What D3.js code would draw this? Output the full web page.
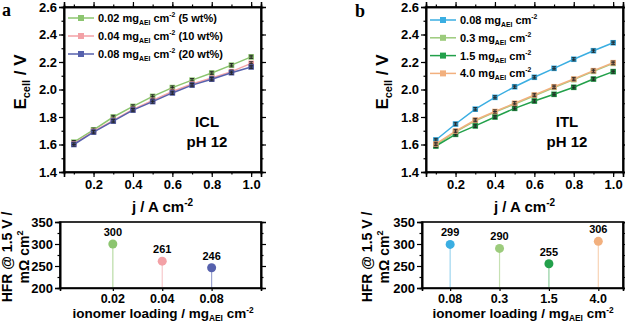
<!DOCTYPE html>
<html>
<head>
<meta charset="utf-8">
<script src="https://cdn.jsdelivr.net/npm/d3@7"></script>
<style>
  body { margin: 0; background: #fff; }
  svg { font-family: "Liberation Sans", Arial, sans-serif; font-weight: bold; }
</style>
</head>
<body>
<svg id="chart" width="625" height="322"></svg>
<script>
// current densities (A cm-2)
var jVals = [0.1, 0.2, 0.3, 0.4, 0.5, 0.6, 0.7, 0.8, 0.9, 1.0];

// panel a - ICL ionomer content
var aNames = ["0.02", "0.04", "0.08"];
var aWt = ["(5 wt%)", "(10 wt%)", "(20 wt%)"];
var aColors = ["#8cc56f", "#f3a1a6", "#5661ad"];
var aStem = ["#b9dca6", "#f7c9cc", "#9ca3d1"];
var a002 = [1.617, 1.707, 1.80, 1.877, 1.95, 2.014, 2.068, 2.12, 2.177, 2.237];
var a004 = [1.605, 1.695, 1.775, 1.855, 1.92, 1.985, 2.04, 2.083, 2.13, 2.19];
var a008 = [1.600, 1.690, 1.770, 1.850, 1.912, 1.975, 2.032, 2.075, 2.122, 2.164];
var aHfr = [300, 261, 246];

// panel b - ITL ionomer loading
var bNames = ["0.08", "0.3", "1.5", "4.0"];
var bColors = ["#3aaee2", "#9ccb7c", "#22a04a", "#f2b07e"];
var bStem = ["#9fd6ef", "#c6e1b3", "#8fcf9f", "#f8d3b5"];
var b008 = [1.633, 1.749, 1.857, 1.943, 2.02, 2.089, 2.154, 2.22, 2.282, 2.34];
var b03 = [1.598, 1.692, 1.772, 1.836, 1.895, 1.955, 2.015, 2.072, 2.132, 2.19];
var b15 = [1.589, 1.674, 1.735, 1.80, 1.863, 1.916, 1.965, 2.016, 2.076, 2.13];
var b40 = [1.604, 1.698, 1.778, 1.84, 1.90, 1.96, 2.02, 2.076, 2.137, 2.195];
var bHfr = [299, 290, 255, 306];

var svg = d3.select("#chart");
var FONT = "Liberation Sans, Arial, sans-serif";

function styleAxis(g) {
    g.selectAll("path").attr("stroke", "#000").attr("stroke-width", 1.6);
    g.selectAll("line").attr("stroke", "#000").attr("stroke-width", 1.2);
    g.selectAll("text").attr("font-size", "13px").attr("font-weight", "bold")
        .attr("font-family", FONT).attr("fill", "#000");
}

// text with "mg_AEI cm^-2" pieces
function unitText(t, pre, post, size) {
    t.append("tspan").text(pre + " mg");
    t.append("tspan").attr("font-size", size * 0.62 + "px").attr("dy", 3).text("AEI");
    t.append("tspan").attr("dy", -3).text(" cm");
    t.append("tspan").attr("font-size", size * 0.62 + "px").attr("dy", -5).text("-2");
    if (post) t.append("tspan").attr("dy", 5).text(" " + post);
}

function linePanel(opt) {
    var x = d3.scaleLinear().domain([0.05, 1.05]).range([opt.left, opt.right]);
    var y = d3.scaleLinear().domain([1.4, 2.6]).range([172, 7]);
    var g = svg.append("g");

    var minorX = d3.range(0.1, 1.01, 0.1);
    var minorY = d3.range(1.4, 2.61, 0.1);

    // minor ticks
    g.append("g").attr("transform", "translate(0,172)")
        .call(d3.axisBottom(x).tickValues(minorX).tickSize(2.5).tickFormat(""))
        .call(styleAxis);
    g.append("g").attr("transform", "translate(" + opt.left + ",0)")
        .call(d3.axisLeft(y).tickValues(minorY).tickSize(2.5).tickFormat(""))
        .call(styleAxis);
    g.append("g").attr("transform", "translate(" + opt.right + ",0)")
        .call(d3.axisLeft(y).tickValues(minorY).tickSize(-2.5).tickFormat(""))
        .call(styleAxis);
    g.append("g").attr("transform", "translate(0,7)")
        .call(d3.axisBottom(x).tickValues(minorX).tickSize(-2.5).tickFormat(""))
        .call(styleAxis);

    // major ticks
    g.append("g").attr("transform", "translate(0,172)")
        .call(d3.axisBottom(x).tickValues([0.2, 0.4, 0.6, 0.8, 1.0]).tickSize(5).tickPadding(3).tickFormat(d3.format(".1f")))
        .call(styleAxis);
    g.append("g").attr("transform", "translate(" + opt.left + ",0)")
        .call(d3.axisLeft(y).tickValues([1.4, 1.6, 1.8, 2.0, 2.2, 2.4, 2.6]).tickSize(5).tickPadding(2).tickFormat(d3.format(".1f")))
        .call(styleAxis);
    g.append("g").attr("transform", "translate(" + opt.right + ",0)")
        .call(d3.axisLeft(y).tickValues([1.6, 1.8, 2.0, 2.2, 2.4]).tickSize(-5).tickFormat(""))
        .call(styleAxis);
    g.append("g").attr("transform", "translate(0,7)")
        .call(d3.axisBottom(x).tickValues([0.2, 0.4, 0.6, 0.8, 1.0]).tickSize(-5).tickFormat(""))
        .call(styleAxis);

    // series
    var line = d3.line().x(function(d, i) { return x(jVals[i]); }).y(function(d) { return y(d); });
    opt.series.forEach(function(s, k) {
        var sg = g.append("g");
        sg.append("path").datum(s).attr("d", line)
            .attr("fill", "none").attr("stroke", opt.colors[k]).attr("stroke-width", 1.5);
        sg.selectAll("rect").data(s).enter().append("rect")
            .attr("x", function(d, i) { return x(jVals[i]) - 2.8; })
            .attr("y", function(d) { return y(d) - 2.8; })
            .attr("width", 5.6).attr("height", 5.6)
            .attr("fill", opt.colors[k]);
        // error bars
        sg.selectAll("path.err").data(s).enter().append("path")
            .attr("class", "err")
            .attr("d", function(d, i) {
                var cx = x(jVals[i]), y1 = y(d + 0.012), y2 = y(d - 0.012);
                return "M" + (cx - 2) + "," + y1 + "H" + (cx + 2) +
                       "M" + cx + "," + y1 + "V" + y2 +
                       "M" + (cx - 2) + "," + y2 + "H" + (cx + 2) +
                       "M" + (cx - 2) + "," + y(d) + "H" + (cx + 2);
            })
            .attr("stroke", "#222").attr("stroke-width", 0.9).attr("fill", "none");
    });

    // frame
    g.append("rect").attr("x", opt.left).attr("y", 7)
        .attr("width", opt.right - opt.left).attr("height", 165)
        .attr("fill", "none").attr("stroke", "#000").attr("stroke-width", 1.6);

    // legend
    opt.names.forEach(function(n, k) {
        var ly = opt.legY + k * opt.legStep;
        g.append("line").attr("x1", opt.legX).attr("x2", opt.legX + 26)
            .attr("y1", ly).attr("y2", ly)
            .attr("stroke", opt.colors[k]).attr("stroke-width", 1.5);
        g.append("rect").attr("x", opt.legX + 10).attr("y", ly - 3)
            .attr("width", 6).attr("height", 6).attr("fill", opt.colors[k]);
        var t = g.append("text").attr("x", opt.legX + 30).attr("y", ly + 4)
            .attr("font-size", "11px").attr("font-weight", "bold");
        unitText(t, n, opt.post ? opt.post[k] : null, 11);
    });

    // label
    var cx = opt.labX;
    g.append("text").attr("x", cx).attr("y", 127).attr("text-anchor", "middle")
        .attr("font-size", "15px").text(opt.label);
    g.append("text").attr("x", cx).attr("y", 147).attr("text-anchor", "middle")
        .attr("font-size", "15px").text("pH 12");

    // y title
    var yt = g.append("text").attr("transform", "translate(" + opt.yTitleX + ",82) rotate(-90)")
        .attr("text-anchor", "middle").attr("font-size", "17px");
    yt.append("tspan").text("E");
    yt.append("tspan").attr("font-size", "11px").attr("dy", 4).text("cell");
    yt.append("tspan").attr("dy", -4).text(" / V");

    // x title
    var xt = g.append("text").attr("x", (opt.left + opt.right) / 2).attr("y", 212)
        .attr("text-anchor", "middle").attr("font-size", "15px");
    xt.append("tspan").text("j / A cm");
    xt.append("tspan").attr("font-size", "10px").attr("dy", -6).text("-2");
}

function hfrPanel(opt) {
    var x = d3.scaleLinear().domain(opt.xDomain).range([opt.left, opt.right]);
    var y = d3.scaleLinear().domain([200, 350]).range([288, 222]);
    var g = svg.append("g");

    g.append("g").attr("transform", "translate(" + opt.left + ",0)")
        .call(d3.axisLeft(y).tickValues([225, 275, 325]).tickSize(2.5).tickFormat(""))
        .call(styleAxis);
    g.append("g").attr("transform", "translate(" + opt.right + ",0)")
        .call(d3.axisLeft(y).tickValues([225, 275, 325]).tickSize(-2.5).tickFormat(""))
        .call(styleAxis);
    g.append("g").attr("transform", "translate(" + opt.left + ",0)")
        .call(d3.axisLeft(y).tickValues([200, 250, 300, 350]).tickSize(5).tickPadding(2))
        .call(styleAxis);
    g.append("g").attr("transform", "translate(" + opt.right + ",0)")
        .call(d3.axisLeft(y).tickValues([250, 300]).tickSize(-5).tickFormat(""))
        .call(styleAxis);
    // category ticks
    g.append("g").attr("transform", "translate(0,288)")
        .call(d3.axisBottom(x).tickValues(d3.range(1, opt.names.length + 1)).tickSize(3).tickFormat(""))
        .call(styleAxis);

    // category labels
    g.selectAll("text.cat").data(opt.names).enter().append("text")
        .attr("class", "cat")
        .attr("x", function(d, i) { return x(i + 1); })
        .attr("y", 303).attr("text-anchor", "middle").attr("font-size", "12.5px")
        .text(function(d) { return d; });

    // stems and dots
    g.selectAll("line.stem").data(opt.values).enter().append("line")
        .attr("class", "stem")
        .attr("x1", function(d, i) { return x(i + 1); })
        .attr("x2", function(d, i) { return x(i + 1); })
        .attr("y1", function(d) { return y(d); })
        .attr("y2", y(200))
        .attr("stroke", function(d, i) { return opt.stem[i]; }).attr("stroke-width", 1.2);
    g.selectAll("circle").data(opt.values).enter().append("circle")
        .attr("cx", function(d, i) { return x(i + 1); })
        .attr("cy", function(d) { return y(d); })
        .attr("r", 4.5)
        .attr("fill", function(d, i) { return opt.colors[i]; });
    g.selectAll("text.val").data(opt.values).enter().append("text")
        .attr("class", "val")
        .attr("x", function(d, i) { return x(i + 1); })
        .attr("y", function(d) { return y(d) - 8; })
        .attr("text-anchor", "middle").attr("font-size", "11px")
        .text(function(d) { return d; });

    g.append("rect").attr("x", opt.left).attr("y", 222)
        .attr("width", opt.right - opt.left).attr("height", 66)
        .attr("fill", "none").attr("stroke", "#000").attr("stroke-width", 1.6);

    // y title (two lines)
    var yt = g.append("text").attr("transform", "translate(" + opt.yTitleX + ",257) rotate(-90)")
        .attr("text-anchor", "middle").attr("font-size", "14px");
    yt.append("tspan").attr("x", 0).attr("dy", 0).text("HFR @ 1.5 V /");
    yt.append("tspan").attr("x", 0).attr("dy", 17).text("m\u03A9 cm");
    yt.append("tspan").attr("font-size", "9px").attr("dy", -6).text("2");

    var xt = g.append("text").attr("x", opt.xTitleX).attr("y", 318)
        .attr("text-anchor", "middle").attr("font-size", "13.5px");
    unitText(xt, "ionomer loading /", null, 13.5);
}

linePanel({
    left: 64, right: 261, series: [a002, a004, a008], colors: aColors,
    names: aNames, post: aWt, legX: 68, legY: 18, legStep: 18,
    label: "ICL", labX: 207, yTitleX: 26
});
linePanel({
    left: 426, right: 623, series: [b008, b03, b15, b40], colors: bColors,
    names: bNames, post: null, legX: 430, legY: 20, legStep: 17.8,
    label: "ITL", labX: 567, yTitleX: 388
});

hfrPanel({
    left: 60, right: 261, xDomain: [-0.07, 4.0], names: aNames, values: aHfr,
    colors: aColors, stem: aStem, yTitleX: 12, xTitleX: 163
});
hfrPanel({
    left: 422, right: 623, xDomain: [0.43, 4.5], names: bNames, values: bHfr,
    colors: bColors, stem: bStem, yTitleX: 372, xTitleX: 523
});

// panel letters
svg.append("text").attr("x", 2).attr("y", 16).attr("font-family", "Liberation Serif, serif")
    .attr("font-size", "18px").attr("font-weight", "bold").text("a");
svg.append("text").attr("x", 355).attr("y", 17).attr("font-family", "Liberation Serif, serif")
    .attr("font-size", "18px").attr("font-weight", "bold").text("b");
</script>
</body>
</html>
